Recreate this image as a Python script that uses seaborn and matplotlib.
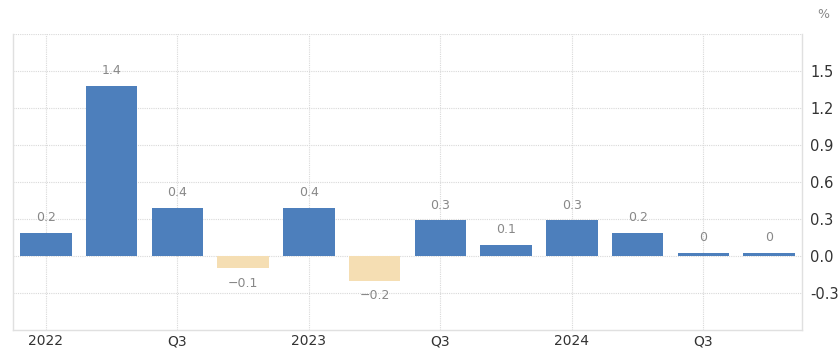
import matplotlib
matplotlib.use("Agg")
import matplotlib.pyplot as plt
import seaborn as sns
import pandas as pd

quarters = ["2022Q1", "2022Q2", "2022Q3", "2022Q4", "2023Q1", "2023Q2",
            "2023Q3", "2023Q4", "2024Q1", "2024Q2", "2024Q3", "2024Q4"]
values = [0.19, 1.38, 0.39, -0.10, 0.39, -0.20, 0.29, 0.09, 0.29, 0.19, 0.025, 0.025]
value_labels = ["0.2", "1.4", "0.4", "\u22120.1", "0.4", "\u22120.2", "0.3", "0.1", "0.3", "0.2", "0", "0"]
xtick_labels = ["2022", "", "Q3", "", "2023", "", "Q3", "", "2024", "", "Q3", ""]
yticks = [-0.3, 0.0, 0.3, 0.6, 0.9, 1.2, 1.5]

BLUE = "#4d7fbc"
NEG = "#f5deb3"

df = pd.DataFrame({"q": quarters, "v": values})
colors = {q: (BLUE if v >= 0 else NEG) for q, v in zip(quarters, values)}

sns.set_theme(style="white")
fig = plt.figure(figsize=(8.39, 3.5), dpi=100)
ax = fig.add_axes([13/839, 1 - 330/350, (802 - 13)/839, (330 - 34)/350])

sns.barplot(data=df, x="q", y="v", hue="q", palette=colors, order=quarters,
            legend=False, width=0.78, ax=ax, saturation=1, linewidth=0)

ax.set_xlim(-0.5, 11.5)
ax.set_ylim(-0.6, 1.8)

# grids
for yv in yticks + [1.8]:
    ax.axhline(yv, color="#d9d9d9", lw=0.8, ls=(0, (1, 1)), zorder=0)
for i, lab in enumerate(xtick_labels):
    if lab:
        ax.axvline(i, color="#d9d9d9", lw=0.8, ls=(0, (1, 1)), zorder=0)

ax.set_xticks(range(len(quarters)))
ax.set_xticklabels(xtick_labels, fontsize=10, color="#333333")
ax.tick_params(axis="x", length=0, pad=3)

ax.yaxis.tick_right()
ax.set_yticks(yticks)
ax.set_yticklabels([f"{t:.1f}" for t in yticks], fontsize=10.5, color="#333333")
ax.tick_params(axis="y", length=0, pad=6)

ax.set_xlabel("")
ax.set_ylabel("")

for s in ["left", "bottom", "right"]:
    ax.spines[s].set_color("#e0e0e0")
    ax.spines[s].set_linewidth(1)
ax.spines["top"].set_visible(False)

for i, (v, lab) in enumerate(zip(values, value_labels)):
    if v >= 0:
        ax.text(i, v + 0.07, lab, ha="center", va="bottom", fontsize=9, color="#888888")
    else:
        ax.text(i, v - 0.07, lab, ha="center", va="top", fontsize=9, color="#888888")

fig.text(823/839, 1 - 15/350, "%", ha="center", va="center", fontsize=9, color="#888888")

fig.savefig("out.png", dpi=100)
